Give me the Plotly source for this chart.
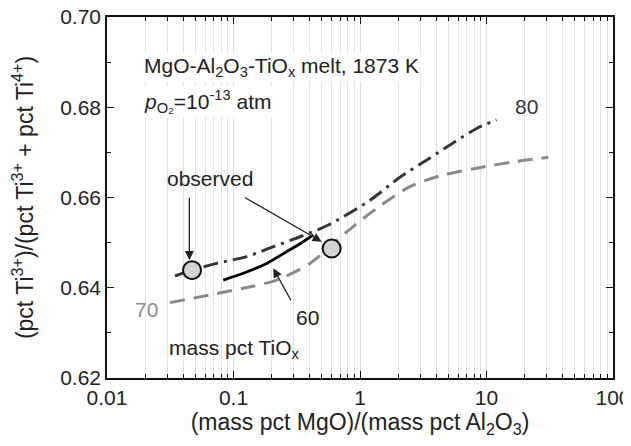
import plotly.graph_objects as go
import numpy as np

# ---- data ----
x80 = [0.0345, 0.047, 0.0736, 0.127, 0.2065, 0.3356, 0.5615, 1.2, 2.07, 3.37, 5.44, 8.36, 12.0]
y80 = [0.6426, 0.6439, 0.6454, 0.6469, 0.6491, 0.6513, 0.6539, 0.6594, 0.6645, 0.6683, 0.6721, 0.6753, 0.6772]

x70 = [0.0315, 0.1195, 0.2196, 0.4024, 0.786, 1.355, 2.48, 4.56, 8.36, 16.3, 30.8]
y70 = [0.6367, 0.6399, 0.6417, 0.6454, 0.6524, 0.6576, 0.6624, 0.6650, 0.6665, 0.6679, 0.6689]

x60 = [0.0831, 0.1195, 0.183, 0.2634, 0.3562, 0.4276]
y60 = [0.6417, 0.6432, 0.6454, 0.6480, 0.6502, 0.6517]

x_obs = [0.047, 0.597]
y_obs = [0.6439, 0.6487]

x_ticks = [0.01, 0.1, 1, 10, 100]
x_ticktext = ["0.01", "0.1", "1", "10", "100"]
y_ticks = [0.62, 0.64, 0.66, 0.68, 0.70]
y_ticktext = ["0.62", "0.64", "0.66", "0.68", "0.70"]

FONT = "Arial, 'Liberation Sans', sans-serif"
TXT = "#222222"
TICK_SIZE = 21
TITLE_SIZE = 23
ANN_SIZE = 21

# the page body has an 8px default margin; place the figure so the plot area matches the reference
OFF = 8
W, H = 631 - OFF, 446 - 2 * OFF

fig = go.Figure()
fig.add_trace(go.Scatter(x=x70, y=y70, mode="lines", line=dict(color="#8a8a8a", width=3, dash="15px,9px", shape="spline", smoothing=0.8), showlegend=False))
fig.add_trace(go.Scatter(x=x80, y=y80, mode="lines", line=dict(color="#363636", width=3, dash="15px,6px,3px,6px", shape="spline", smoothing=0.8), showlegend=False))
fig.add_trace(go.Scatter(x=x60, y=y60, mode="lines", line=dict(color="#000000", width=2.8, shape="spline", smoothing=0.8), showlegend=False))
fig.add_trace(go.Scatter(x=x_obs, y=y_obs, mode="markers", marker=dict(size=18, color="#d3d3d3", line=dict(color="#111111", width=2)), showlegend=False))

lg = np.log10
ann = []

def arrow(xh, yh, xt, yt):
    return dict(x=lg(xh), y=yh, ax=lg(xt), ay=yt, xref="x", yref="y", axref="x", ayref="y",
                text="", showarrow=True, arrowhead=2, arrowsize=1.4, arrowwidth=1.3, arrowcolor="#222222")

ann.append(arrow(10**-1.349, 0.6461, 10**-1.349, 0.6602))
ann.append(arrow(10**-0.3028, 0.6502, 10**-0.9225, 0.6602))
ann.append(arrow(10**-0.6854, 0.6443, 10**-0.540, 0.6369))

def label(x, y, text, color=TXT, size=ANN_SIZE, xanchor="center", bg=None):
    d = dict(x=lg(x), y=y, xref="x", yref="y", text=text, showarrow=False, xanchor=xanchor, yanchor="middle",
             font=dict(family=FONT, size=size, color=color))
    if bg:
        d["bgcolor"] = bg
    return d

ann.append(label(10**-1.186, 0.6643, "observed"))
ann.append(label(10**-0.419, 0.6333, "60"))
ann.append(label(10**-1.686, 0.6351, "70", color="#8a8a8a"))
ann.append(label(10**1.318, 0.6801, "80", color="#363636"))
ann.append(label(10**-1.5257, 0.6265, "mass pct TiO<sub>x</sub>", xanchor="left"))
ann.append(label(10**-1.7233, 0.6889, "MgO-Al<sub>2</sub>O<sub>3</sub>-TiO<sub>x</sub> melt, 1873 K", xanchor="left", bg="white"))
ann.append(label(10**-1.7233, 0.6812, "<i>p</i><sub>O₂</sub>=10<sup>-13</sup> atm", xanchor="left", bg="white"))

fig.update_layout(
    width=W, height=H,
    margin=dict(l=107 - OFF, r=18, t=17 - OFF, b=68 - OFF, autoexpand=False),
    paper_bgcolor="white", plot_bgcolor="white",
    font=dict(family=FONT, size=TICK_SIZE, color=TXT),
    annotations=ann,
)
fig.update_xaxes(
    type="log", range=[-2, 2], tickvals=x_ticks, ticktext=x_ticktext,
    showline=True, linecolor="#111111", linewidth=1.5, mirror="ticks",
    ticks="inside", ticklen=7, tickwidth=1.2, tickcolor="#111111",
    showgrid=True, gridcolor="#dddddd", gridwidth=1,
    minor=dict(dtick="D1", ticks="inside", ticklen=4, tickcolor="#111111", showgrid=True, gridcolor="#e2e2e2", gridwidth=1),
    tickfont=dict(size=TICK_SIZE, color=TXT), ticklabeloverflow="allow",
    title=dict(text="(mass pct MgO)/(mass pct Al<sub>2</sub>O<sub>3</sub>)", font=dict(size=TITLE_SIZE, color=TXT), standoff=16),
    zeroline=False, automargin=False,
)
fig.update_yaxes(
    range=[0.62, 0.70], tickvals=y_ticks, ticktext=y_ticktext,
    showline=True, linecolor="#111111", linewidth=1.5, mirror="ticks",
    ticks="inside", ticklen=7, tickwidth=1.2, tickcolor="#111111",
    showgrid=False,
    minor=dict(dtick=0.01, ticks="inside", ticklen=4, tickcolor="#111111", showgrid=False),
    tickfont=dict(size=TICK_SIZE, color=TXT), ticklabeloverflow="allow",
    title=dict(text="(pct Ti<sup>3+</sup>)/(pct Ti<sup>3+</sup> + pct Ti<sup>4+</sup>)", font=dict(size=TITLE_SIZE, color=TXT), standoff=22),
    zeroline=False, automargin=False,
)

fig.write_html("out.html")
